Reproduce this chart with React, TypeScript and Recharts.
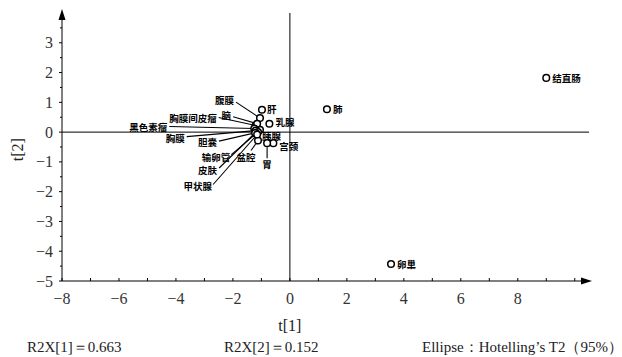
import { ScatterChart, Scatter, XAxis, YAxis, ReferenceLine } from 'recharts'

// 样本名称与得分 t[1] / t[2]
const names = ['结直肠', '肺', '卵巢', '肝', '乳腺', '胰腺', '宫颈', '胃', '盆腔', '腹膜', '胸膜间皮瘤', '脑', '黑色素瘤', '胸膜', '胆囊', '输卵管', '皮肤', '甲状腺']
const t1 = [9.0, 1.3, 3.55, -0.98, -0.72, -1.05, -0.58, -0.8, -1.12, -1.05, -1.2, -1.15, -1.25, -1.2, -1.12, -1.18, -1.22, -1.15]
const t2 = [1.82, 0.77, -4.43, 0.75, 0.28, 0.08, -0.37, -0.37, -0.28, 0.47, 0.22, 0.28, 0.12, 0.05, 0.0, -0.05, -0.03, -0.08]

const xTicks = [-8, -7, -6, -5, -4, -3, -2, -1, 0, 1, 2, 3, 4, 5, 6, 7, 8, 9, 10]
const yTicks = [-5, -4.5, -4, -3.5, -3, -2.5, -2, -1.5, -1, -0.5, 0, 0.5, 1, 1.5, 2, 2.5, 3, 3.5]
const xLabeled = [-8, -6, -4, -2, 0, 2, 4, 6, 8]
const yLabeled = [-5, -4, -3, -2, -1, 0, 1, 2, 3]
const xTitle = 't[1]'
const yTitle = 't[2]'
const stats = ['R2X[1]＝0.663', 'R2X[2]＝0.152', 'Ellipse：Hotelling’s T2（95%）']

const data = names.map((name, i) => ({ name, t1: t1[i], t2: t2[i] }))

// label placement relative to the point (px), with optional leader line end
type Lab = { dx: number; dy: number; anchor: 'start' | 'middle' | 'end'; lx?: number; ly?: number; sx?: number; sy?: number }
const labelLayout: Record<string, Lab> = {
  结直肠: { dx: 6, dy: 0, anchor: 'start' },
  肺: { dx: 6, dy: 0, anchor: 'start' },
  卵巢: { dx: 6, dy: 0, anchor: 'start' },
  肝: { dx: 5, dy: -1, anchor: 'start' },
  乳腺: { dx: 6, dy: -1.5, anchor: 'start' },
  胰腺: { dx: 2, dy: 6, anchor: 'start' },
  宫颈: { dx: 6, dy: 2.5, anchor: 'start' },
  胃: { dx: 0, dy: 21, anchor: 'middle', sx: 0, sy: 4, lx: 0, ly: 15 },
  盆腔: { dx: -12, dy: 17, anchor: 'middle', sx: -2, sy: 3, lx: -7, ly: 10 },
  腹膜: { dx: -26, dy: -18, anchor: 'end', lx: -24, ly: -16 },
  胸膜间皮瘤: { dx: -39, dy: -8, anchor: 'end', lx: -37, ly: -8 },
  脑: { dx: -26, dy: -9, anchor: 'end', lx: -24, ly: -7 },
  黑色素瘤: { dx: -87, dy: -2, anchor: 'end', lx: -85, ly: -2 },
  胸膜: { dx: -71, dy: 7, anchor: 'end', lx: -69, ly: 6 },
  胆囊: { dx: -41, dy: 10, anchor: 'end', lx: -39, ly: 9 },
  输卵管: { dx: -26, dy: 23, anchor: 'end', lx: -25, ly: 21 },
  皮肤: { dx: -38, dy: 37, anchor: 'end', lx: -36, ly: 35 },
  甲状腺: { dx: -45, dy: 52, anchor: 'end', lx: -44, ly: 50 },
}

const statsX = [27, 224, 422]

const serif = '"Liberation Serif", "Times New Roman", serif'
const cjk = '"Noto Sans CJK SC", sans-serif'

const fmt = (v: number) => (v < 0 ? '−' + Math.abs(v) : String(v))

function XTick(props: any) {
  const { x, y, payload } = props
  const v = payload.value
  return (
    <g>
      <line x1={x} x2={x} y1={y} y2={y - 3} stroke="#000" />
      {xLabeled.includes(v) && (
        <text x={x} y={y + 17} textAnchor="middle" dominantBaseline="central" fontFamily={serif} fontSize={16} fill="#333">
          {fmt(v)}
        </text>
      )}
    </g>
  )
}

function YTick(props: any) {
  const { x, y, payload } = props
  const v = payload.value
  const major = yLabeled.includes(v)
  return (
    <g>
      <line x1={x} x2={x - (major ? 3 : 2)} y1={y} y2={y} stroke="#000" />
      {major && (
        <text x={x - 9} y={y} textAnchor="end" dominantBaseline="central" fontFamily={serif} fontSize={16} fill="#333">
          {fmt(v)}
        </text>
      )}
    </g>
  )
}

function XAxisDecor(props: any) {
  const { x, y, width } = props.viewBox
  const tip = x + width + 3
  const zeroX = x + (width * 8) / 18.5
  return (
    <g>
      <polygon points={`${tip},${y} ${tip - 11},${y - 3.5} ${tip - 11},${y + 3.5}`} fill="#000" />
      <text x={zeroX} y={y + 44} textAnchor="middle" dominantBaseline="central" fontFamily={serif} fontSize={16} fill="#222">
        {xTitle}
      </text>
      {stats.map((s, i) => (
        <text key={s} x={statsX[i]} y={y + 66} dominantBaseline="central" fontFamily={serif} fontSize={15} fill="#222">
          {s}
        </text>
      ))}
    </g>
  )
}

function YAxisDecor(props: any) {
  const { x, y, width, height } = props.viewBox
  const ax = x + width
  const tip = y - 4
  return (
    <g>
      <polygon points={`${ax},${tip} ${ax - 3.5},${tip + 11} ${ax + 3.5},${tip + 11}`} fill="#000" />
      <text
        x={18}
        y={y + height * 0.51}
        textAnchor="middle"
        dominantBaseline="central"
        fontFamily={serif}
        fontSize={16}
        fill="#222"
        transform={`rotate(-90 18 ${y + height * 0.51})`}
      >
        {yTitle}
      </text>
    </g>
  )
}

function PointShape(props: any) {
  const { cx, cy, payload } = props
  const lab = labelLayout[payload.name]
  return (
    <g>
      {lab.lx !== undefined && (
        <line x1={cx + (lab.sx ?? 0)} y1={cy + (lab.sy ?? 0)} x2={cx + lab.lx} y2={cy + (lab.ly ?? 0)} stroke="#000" strokeWidth={1.1} />
      )}
      <circle cx={cx} cy={cy} r={3.3} fill="#fff" stroke="#000" strokeWidth={1.5} />
      <text
        x={cx + lab.dx}
        y={cy + lab.dy}
        textAnchor={lab.anchor}
        dominantBaseline="central"
        fontFamily={cjk}
        fontWeight={700}
        fontSize={9.5}
        fill="#000"
      >
        {payload.name}
      </text>
    </g>
  )
}

export default function App() {
  return (
    <div style={{ position: 'absolute', left: 0, top: 0, background: '#fff' }}>
      <ScatterChart width={622} height={357} margin={{ top: 13, right: 33, bottom: 0, left: 0 }}>
        <XAxis
          type="number"
          dataKey="t1"
          domain={[-8, 10.5]}
          ticks={xTicks}
          interval={0}
          allowDataOverflow
          height={76}
          tickSize={0}
          tickMargin={0}
          tickLine={false}
          axisLine={{ stroke: '#000', strokeWidth: 1 }}
          tick={<XTick />}
          label={<XAxisDecor />}
        />
        <YAxis
          type="number"
          dataKey="t2"
          domain={[-5, 4]}
          ticks={yTicks}
          interval={0}
          allowDataOverflow
          width={62}
          tickSize={0}
          tickMargin={0}
          tickLine={false}
          axisLine={{ stroke: '#000', strokeWidth: 1 }}
          tick={<YTick />}
          label={<YAxisDecor />}
        />
        <ReferenceLine x={0} stroke="#000" strokeWidth={1} />
        <ReferenceLine y={0} stroke="#000" strokeWidth={1} />
        <Scatter data={data} shape={<PointShape />} isAnimationActive={false} />
      </ScatterChart>
    </div>
  )
}
